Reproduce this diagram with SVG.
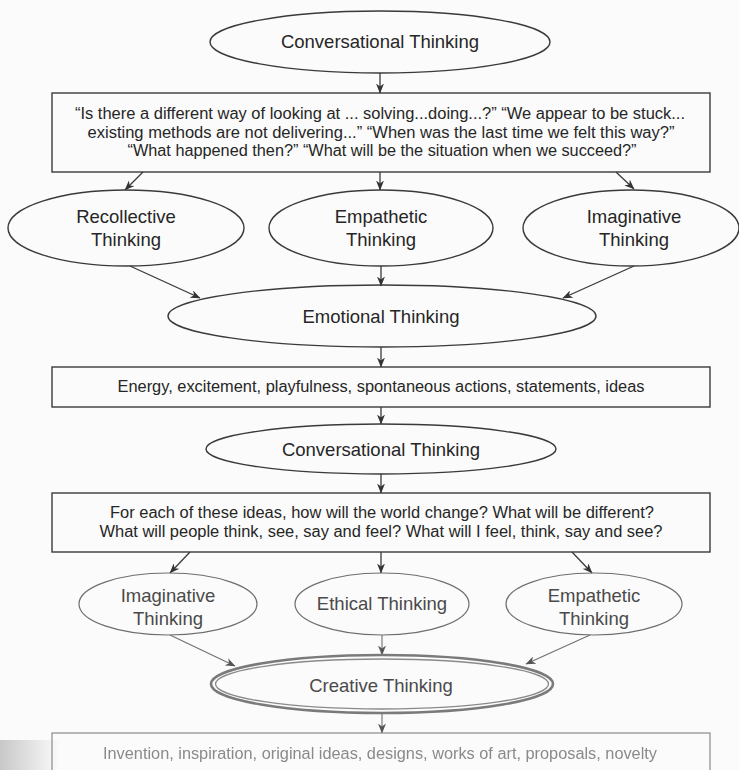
<svg xmlns="http://www.w3.org/2000/svg" width="739" height="770" viewBox="0 0 739 770">
  <style>
    .shape { fill: none; stroke: #3a3a3a; stroke-width: 1.4; }
    .shape.light { stroke: #6e6e6e; stroke-width: 1.2; }
    .label { font-family: "Liberation Sans", Arial, Helvetica, sans-serif; font-size: 18.5px; fill: #262626; text-anchor: middle; }
    .label.light { fill: #4a4a4a; }
    .note { font-family: "Liberation Sans", Arial, Helvetica, sans-serif; font-size: 16px; fill: #262626; text-anchor: middle; }
    .note.faint { fill: #8a8a8a; }
    .link { fill: none; stroke: #3a3a3a; stroke-width: 1.3; marker-end: url(#arrow); }
    .link.light { stroke: #707070; stroke-width: 1.1; marker-end: url(#arrowLight); }
  </style>
  <defs>
    <marker id="arrow" viewBox="0 0 10 8" refX="9.5" refY="4" markerWidth="10" markerHeight="8" markerUnits="userSpaceOnUse" orient="auto">
      <path d="M0,0 L10,4 L0,8 L3,4 z" fill="#333"/>
    </marker>
    <marker id="arrowLight" viewBox="0 0 10 8" refX="9.5" refY="4" markerWidth="10" markerHeight="8" markerUnits="userSpaceOnUse" orient="auto">
      <path d="M0,0 L10,4 L0,8 L3,4 z" fill="#555"/>
    </marker>
    <filter id="soft" x="-5%" y="-50%" width="110%" height="200%">
      <feGaussianBlur stdDeviation="0.7"/>
    </filter>
    <linearGradient id="cornerShade" x1="0" y1="0" x2="1" y2="0">
      <stop offset="0" stop-color="#c8c8c8"/>
      <stop offset="1" stop-color="#c8c8c8" stop-opacity="0"/>
    </linearGradient>
  </defs>

  <rect x="0" y="0" width="739" height="770" fill="#fbfbfb"/>
  <!-- page shading along the lower left edge -->
  <rect x="0" y="740" width="60" height="30" fill="url(#cornerShade)"/>

  <!-- connectors -->
  <g id="connectors">
    <line class="link" x1="380" y1="73" x2="380" y2="93"/>
    <line class="link" x1="143" y1="172" x2="125" y2="190"/>
    <line class="link" x1="380" y1="172" x2="380" y2="190"/>
    <line class="link" x1="616" y1="172" x2="634" y2="189"/>
    <line class="link" x1="130" y1="266" x2="200" y2="298"/>
    <line class="link" x1="381" y1="266" x2="381" y2="286"/>
    <line class="link" x1="634" y1="266" x2="563" y2="298"/>
    <line class="link" x1="381" y1="347" x2="381" y2="367"/>
    <line class="link" x1="381" y1="407" x2="381" y2="424"/>
    <line class="link" x1="381" y1="474" x2="381" y2="493"/>
    <line class="link" x1="190" y1="552" x2="170" y2="573"/>
    <line class="link" x1="381" y1="552" x2="381" y2="573"/>
    <line class="link" x1="572" y1="552" x2="592" y2="573"/>
    <line class="link light" x1="170" y1="635" x2="235" y2="666"/>
    <line class="link light" x1="382" y1="635" x2="382" y2="655"/>
    <line class="link light" x1="590" y1="635" x2="526" y2="664"/>
    <line class="link light" x1="382" y1="713" x2="382" y2="733"/>
  </g>

  <g id="conversational-1">
    <ellipse class="shape" cx="380" cy="42" rx="170" ry="31"/>
    <text class="label" x="380" y="48">Conversational Thinking</text>
  </g>

  <g id="questions-1">
    <rect class="shape" x="52" y="93" width="658" height="79"/>
    <text class="note" x="380" y="119" textLength="610" lengthAdjust="spacingAndGlyphs">“Is there a different way of looking at ... solving...doing...?” “We appear to be stuck...</text>
    <text class="note" x="381" y="137.5" textLength="587" lengthAdjust="spacingAndGlyphs">existing methods are not delivering...” “When was the last time we felt this way?”</text>
    <text class="note" x="382" y="156" textLength="509" lengthAdjust="spacingAndGlyphs">“What happened then?” “What will be the situation when we succeed?”</text>
  </g>

  <g id="recollective">
    <ellipse class="shape" cx="126" cy="228" rx="118" ry="38"/>
    <text class="label" x="126" y="223">Recollective</text>
    <text class="label" x="126" y="246">Thinking</text>
  </g>

  <g id="empathetic-1">
    <ellipse class="shape" cx="381" cy="228" rx="112" ry="38"/>
    <text class="label" x="381" y="223">Empathetic</text>
    <text class="label" x="381" y="246">Thinking</text>
  </g>

  <g id="imaginative-1">
    <ellipse class="shape" cx="631" cy="228" rx="108" ry="38"/>
    <text class="label" x="634" y="223">Imaginative</text>
    <text class="label" x="634" y="246">Thinking</text>
  </g>

  <g id="emotional">
    <ellipse class="shape" cx="382" cy="316" rx="214" ry="31"/>
    <text class="label" x="381" y="323">Emotional Thinking</text>
  </g>

  <g id="energy">
    <rect class="shape" x="52" y="367" width="658" height="40"/>
    <text class="note" x="381" y="392" textLength="527" lengthAdjust="spacingAndGlyphs">Energy, excitement, playfulness, spontaneous actions, statements, ideas</text>
  </g>

  <g id="conversational-2">
    <ellipse class="shape" cx="381" cy="449" rx="175" ry="25"/>
    <text class="label" x="381" y="456">Conversational Thinking</text>
  </g>

  <g id="questions-2">
    <rect class="shape" x="52" y="493" width="658" height="59"/>
    <text class="note" x="382" y="518" textLength="544" lengthAdjust="spacingAndGlyphs">For each of these ideas, how will the world change? What will be different?</text>
    <text class="note" x="381" y="537" textLength="563" lengthAdjust="spacingAndGlyphs">What will people think, see, say and feel? What will I feel, think, say and see?</text>
  </g>

  <g id="imaginative-2">
    <ellipse class="shape light" cx="168" cy="604" rx="89" ry="31"/>
    <text class="label light" x="168" y="602">Imaginative</text>
    <text class="label light" x="168" y="624.5">Thinking</text>
  </g>

  <g id="ethical">
    <ellipse class="shape light" cx="382" cy="604" rx="87" ry="31"/>
    <text class="label light" x="382" y="610">Ethical Thinking</text>
  </g>

  <g id="empathetic-2">
    <ellipse class="shape light" cx="594" cy="604" rx="88" ry="31"/>
    <text class="label light" x="594" y="602">Empathetic</text>
    <text class="label light" x="594" y="624.5">Thinking</text>
  </g>

  <g id="creative">
    <ellipse cx="382" cy="684" rx="171" ry="29" fill="none" stroke="#7a7a7a" stroke-width="2.6"/>
    <ellipse cx="382" cy="684" rx="166.5" ry="25" fill="none" stroke="#8a8a8a" stroke-width="1.3"/>
    <text class="label light" x="381" y="692">Creative Thinking</text>
  </g>

  <g id="outcomes">
    <rect x="52" y="733" width="658" height="60" fill="none" stroke="#8a8a8a" stroke-width="1.2"/>
    <text class="note faint" x="380" y="759" textLength="554" lengthAdjust="spacingAndGlyphs" filter="url(#soft)">Invention, inspiration, original ideas, designs, works of art, proposals, novelty</text>
  </g>
</svg>
